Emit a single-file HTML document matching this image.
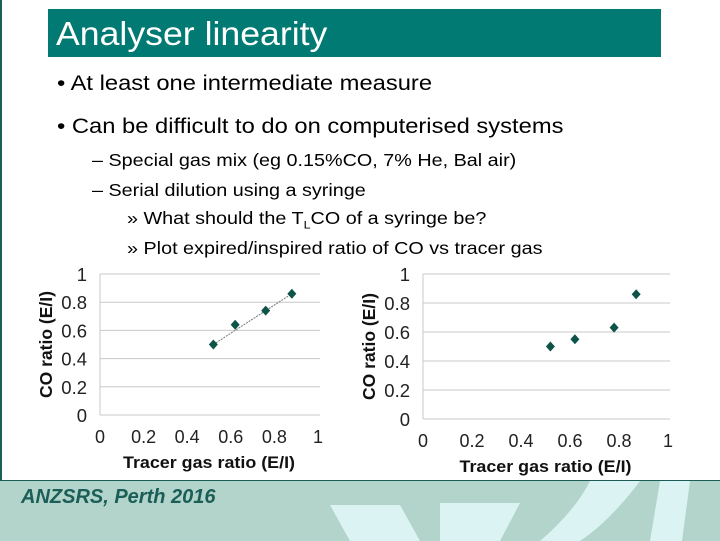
<!DOCTYPE html>
<html><head><meta charset="utf-8"><style>
body{margin:0;width:720px;height:540px;overflow:hidden;background:#fff;font-family:"Liberation Sans",sans-serif;position:relative}
.t{position:absolute;white-space:nowrap;color:#000;transform-origin:0 0}
.w{transform:scaleX(1.13)}
</style></head><body>
<div style="position:absolute;left:0;top:0;width:2px;height:480px;background:#1b5e58"></div>
<div style="position:absolute;left:48px;top:9px;width:613px;height:48px;background:#007a72"></div>
<div class="t" style="left:56px;top:15px;font-size:33px;color:#fff;transform:scaleX(1.08)">Analyser linearity</div>
<div class="t w" style="left:57px;top:72px;font-size:21px">• At least one intermediate measure</div>
<div class="t w" style="left:57px;top:115px;font-size:21px">• Can be difficult to do on computerised systems</div>
<div class="t w" style="left:92px;top:150px;font-size:17.5px">– Special gas mix (eg 0.15%CO, 7% He, Bal air)</div>
<div class="t w" style="left:92px;top:180px;font-size:17.5px">– Serial dilution using a syringe</div>
<div class="t w" style="left:127px;top:208px;font-size:17.5px">» What should the T<sub style="font-size:11px">L</sub>CO of a syringe be?</div>
<div class="t w" style="left:127px;top:238px;font-size:17.5px">» Plot expired/inspired ratio of CO vs tracer gas</div>
<div style="position:absolute;left:0;top:480px;width:720px;height:60px;background:#b2d4cb;border-top:1px solid #1b5e58;overflow:hidden">
<svg width="720" height="60"><polygon points="330,24 400,24 420,60 350,60" fill="#dcf3f3"/><polygon points="440,22 520,22 500,60 440,60" fill="#dcf3f3"/><path d="M590,0 L640,0 Q610,40 580,60 L540,60 Q575,30 590,0Z" fill="#dcf3f3"/><polygon points="660,0 690,0 682,60 650,60" fill="#dcf3f3"/></svg>
</div>
<div class="t" style="left:21px;top:486px;font-size:20px;font-weight:bold;font-style:italic;color:#1b5e58">ANZSRS, Perth 2016</div>
<svg id="chart" width="720" height="540" style="position:absolute;left:0;top:0"></svg>
<script>
const ticks=[0,0.2,0.4,0.6,0.8,1];
const tickLabels=["0","0.2","0.4","0.6","0.8","1"];
const leftX=[0.52,0.62,0.76,0.88];
const leftY=[0.50,0.64,0.74,0.86];
const rightX=[0.52,0.62,0.78,0.87];
const rightY=[0.50,0.55,0.63,0.86];
const NS="http://www.w3.org/2000/svg";
const svg=document.getElementById('chart');
function mk(tag,attrs,parent){const e=document.createElementNS(NS,tag);for(const k in attrs)e.setAttribute(k,attrs[k]);(parent||svg).appendChild(e);return e;}
function chart(name,x0,x1,y0,y1,xs,ys,line){
 const g=mk('g',{});
 
 
 const sx=v=>x0+v*(x1-x0), sy=v=>y0-v*(y0-y1);
 ticks.forEach((t,i)=>{
  const gl=mk('line',{x1:x0,x2:x1+2,y1:sy(t),y2:sy(t),stroke:'#c8c8c8','stroke-width':1},g);
  
  
  const yl=mk('text',{x:x0-13,y:sy(t)+7,'text-anchor':'end','font-size':18.5,fill:'#222'},g);yl.textContent=tickLabels[i];
  
  
  const xl=mk('text',{x:sx(t),y:y0+28,'text-anchor':'middle','font-size':18,fill:'#222'},g);xl.textContent=tickLabels[i];
  
  
 });
 const ax=mk('line',{x1:x0,x2:x0,y1:y1,y2:y0,stroke:'#c8c8c8'},g);
 
 
 if(line){const tl=mk('line',{x1:sx(xs[0]),y1:sy(ys[0]),x2:sx(xs[xs.length-1]),y2:sy(ys[ys.length-1]),stroke:'#777','stroke-width':1,'stroke-dasharray':'2,1'},g);
  
  }
 xs.forEach((v,i)=>{const cx=sx(v),cy=sy(ys[i]);
  const p=mk('polygon',{points:`${cx},${cy-5} ${cx+4.5},${cy} ${cx},${cy+5} ${cx-4.5},${cy}`,fill:'#0d5348'},g);
  
  });
 const xt=mk('text',{x:(x0+x1)/2,y:y0+53,'text-anchor':'middle','font-size':17,'font-weight':'bold',fill:'#111',textLength:172,lengthAdjust:'spacingAndGlyphs'},g);xt.textContent='Tracer gas ratio (E/I)';
 
 
 const yt=mk('text',{x:0,y:0,'text-anchor':'middle','font-size':17.5,'font-weight':'bold',fill:'#111',transform:`translate(${x0-48},${(y0+y1)/2}) rotate(-90)`},g);yt.textContent='CO ratio (E/I)';
 
 
}
chart('left-chart',100,318,415,274,leftX,leftY,true);
chart('right-chart',423,668,419,274,rightX,rightY,false);
</script>
</body></html>
